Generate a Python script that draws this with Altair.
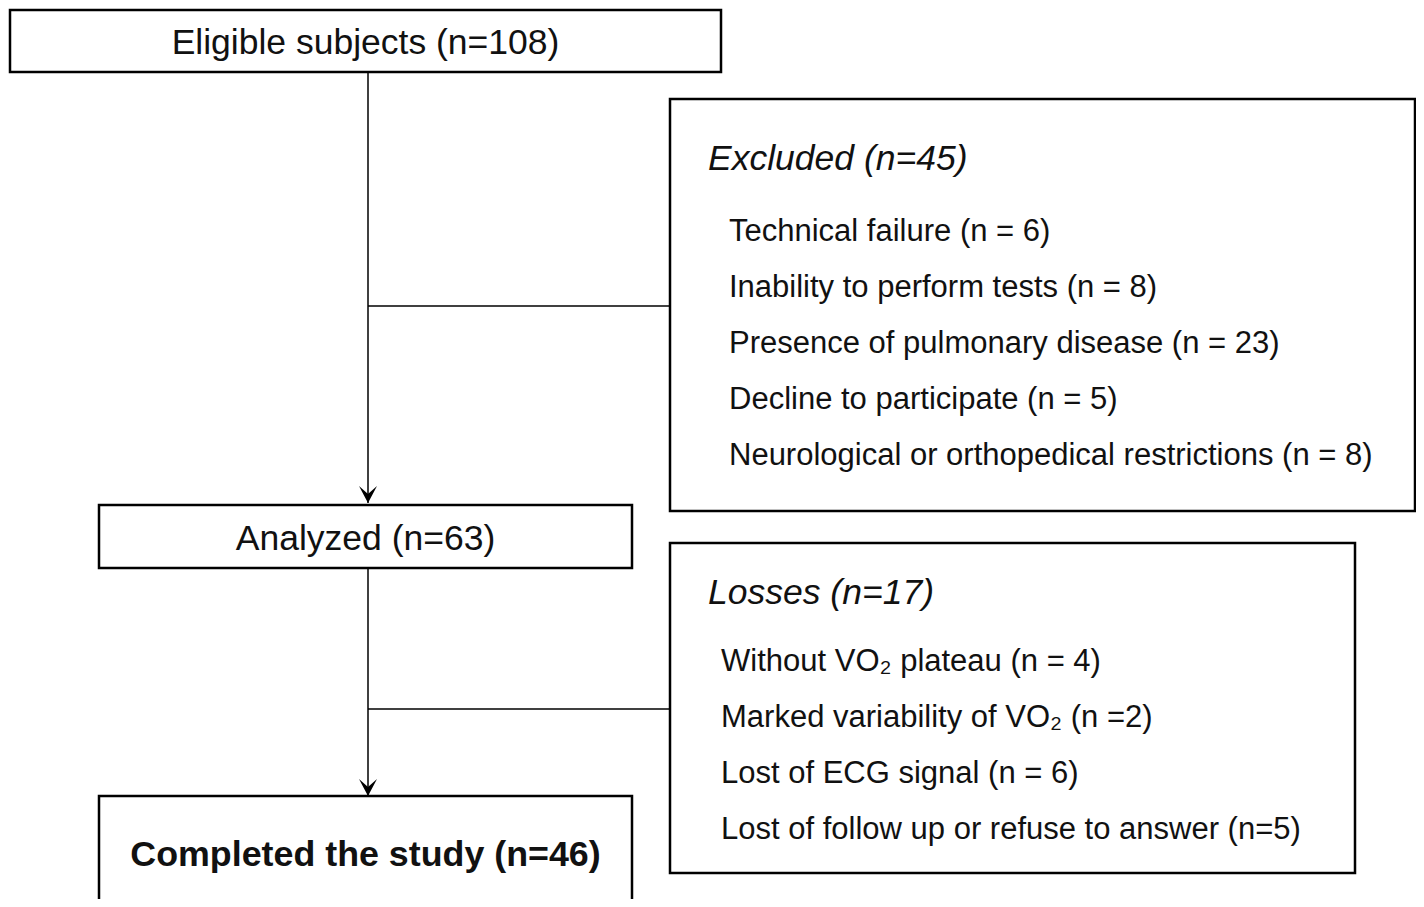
import altair as alt
import pandas as pd

# ---- content ----
main_labels = ["Eligible subjects (n=108)", "Analyzed (n=63)", "Completed the study (n=46)"]
main_bold = [False, False, True]
excluded_header = "Excluded (n=45)"
excluded_items = [
    "Technical failure (n = 6)",
    "Inability to perform tests (n = 8)",
    "Presence of pulmonary disease (n = 23)",
    "Decline to participate (n = 5)",
    "Neurological or orthopedical restrictions (n = 8)",
]
losses_header = "Losses (n=17)"
losses_items = [
    "Without VO\u2082 plateau (n = 4)",
    "Marked variability of VO\u2082 (n =2)",
    "Lost of ECG signal (n = 6)",
    "Lost of follow up or refuse to answer (n=5)",
]

# ---- layout (page pixel coordinates) ----
main_box_x = [10, 99, 99]
main_box_x2 = [721, 632, 632]
main_box_y = [10, 505, 796]
main_box_y2 = [72, 568, 940]
main_text_y = [54, 550, 866]

side_box_x = [670, 670]
side_box_x2 = [1415, 1355]
side_box_y = [99, 543]
side_box_y2 = [511, 873]
header_x = 708
header_y = [170, 604]
excl_item_x = 729
excl_item_y = [241, 297, 353, 409, 465]
loss_item_x = 721
loss_item_y = [671, 727, 783, 839]

stem_x = 368
seg_y = [72, 568]
seg_y2 = [503, 796]
branch_y = [306, 709]
branch_x2 = 670

W, H = 1408, 891
xs = alt.Scale(domain=[8, 8 + W], nice=False, zero=False)
ys = alt.Scale(domain=[8, 8 + H], nice=False, zero=False, reverse=True)
FONT = "Liberation Sans"

boxes = pd.DataFrame({
    "x": main_box_x + side_box_x,
    "x2": main_box_x2 + side_box_x2,
    "y": main_box_y + side_box_y,
    "y2": main_box_y2 + side_box_y2,
})
rects = alt.Chart(boxes).mark_rect(
    fill="white", stroke="black", strokeWidth=2.5, clip=True
).encode(
    x=alt.X("x:Q", scale=xs, axis=None),
    x2="x2:Q",
    y=alt.Y("y:Q", scale=ys, axis=None),
    y2="y2:Q",
)

vlines = pd.DataFrame({"x": [stem_x, stem_x], "y": seg_y, "y2": seg_y2})
vrule = alt.Chart(vlines).mark_rule(color="black", strokeWidth=1.5).encode(
    x=alt.X("x:Q", scale=xs, axis=None),
    y=alt.Y("y:Q", scale=ys, axis=None),
    y2="y2:Q",
)
hlines = pd.DataFrame({"x": [stem_x, stem_x], "x2": [branch_x2, branch_x2], "y": branch_y})
hrule = alt.Chart(hlines).mark_rule(color="black", strokeWidth=1.5).encode(
    x=alt.X("x:Q", scale=xs, axis=None),
    x2="x2:Q",
    y=alt.Y("y:Q", scale=ys, axis=None),
)

arrow_df = pd.DataFrame({"x": [stem_x, stem_x], "y": [t - 9 for t in seg_y2]})
arrows = alt.Chart(arrow_df).mark_point(
    shape="M0,1 L-1,-0.9 L0,0.0 L1,-0.9 Z", size=324, filled=True,
    color="black", opacity=1, strokeWidth=0
).encode(
    x=alt.X("x:Q", scale=xs, axis=None),
    y=alt.Y("y:Q", scale=ys, axis=None),
)

main_df = pd.DataFrame({
    "label": main_labels,
    "x": [(a + b) / 2 for a, b in zip(main_box_x, main_box_x2)],
    "y": main_text_y,
    "bold": main_bold,
})
main_plain = alt.Chart(main_df[~main_df["bold"]]).mark_text(
    font=FONT, fontSize=35.5, align="center", baseline="alphabetic", color="#111"
).encode(
    x=alt.X("x:Q", scale=xs, axis=None),
    y=alt.Y("y:Q", scale=ys, axis=None),
    text="label:N",
)
main_boldt = alt.Chart(main_df[main_df["bold"]]).mark_text(
    font=FONT, fontSize=35.8, fontWeight="bold", align="center", baseline="alphabetic", color="#111"
).encode(
    x=alt.X("x:Q", scale=xs, axis=None),
    y=alt.Y("y:Q", scale=ys, axis=None),
    text="label:N",
)

head_df = pd.DataFrame({"label": [excluded_header, losses_header], "x": [header_x, header_x], "y": header_y})
heads = alt.Chart(head_df).mark_text(
    font=FONT, fontSize=35.5, fontStyle="italic", align="left", baseline="alphabetic", color="#111"
).encode(
    x=alt.X("x:Q", scale=xs, axis=None),
    y=alt.Y("y:Q", scale=ys, axis=None),
    text="label:N",
)

items_df = pd.DataFrame({
    "label": excluded_items + losses_items,
    "x": [excl_item_x] * len(excluded_items) + [loss_item_x] * len(losses_items),
    "y": excl_item_y + loss_item_y,
})
items = alt.Chart(items_df).mark_text(
    font=FONT, fontSize=31, align="left", baseline="alphabetic", color="#111"
).encode(
    x=alt.X("x:Q", scale=xs, axis=None),
    y=alt.Y("y:Q", scale=ys, axis=None),
    text="label:N",
)

chart = alt.layer(vrule, hrule, rects, arrows, main_plain, main_boldt, heads, items).properties(
    width=W, height=H, padding=0, background="white",
    autosize=alt.AutoSizeParams(type="none")
).configure_view(stroke="transparent", strokeWidth=0, strokeOpacity=0)

chart.save("out.html", embed_options={"renderer": "svg", "actions": False})
